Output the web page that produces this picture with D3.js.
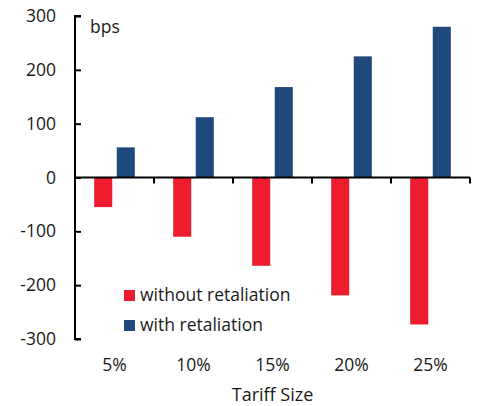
<!DOCTYPE html>
<html>
<head>
<meta charset="utf-8">
<script src="https://cdn.jsdelivr.net/npm/d3@7"></script>
<style>
  body { margin: 0; background: #fff; }
  text { font-family: "Open Sans", "Noto Sans", sans-serif; fill: #1a1a1a; }
</style>
</head>
<body>
<svg id="chart"></svg>
<script>
// Data
const categories = ["5%", "10%", "15%", "20%", "25%"];
const seriesNames = ["without retaliation", "with retaliation"];
const withoutRetaliation = [-55, -110, -164, -219, -273];
const withRetaliation = [56, 112, 168, 225, 280];
const yTicks = [300, 200, 100, 0, -100, -200, -300];

const colors = {"without retaliation": "#ed1c2e", "with retaliation": "#1f497d"};

// Dimensions
const width = 479;
const height = 406;
const margin = {top: 16, right: 9, bottom: 67, left: 75};
const fontSize = "17.5px";

const svg = d3.select("#chart")
  .attr("width", width)
  .attr("height", height);

// Scales
const y = d3.scaleLinear()
  .domain([-300, 300])
  .range([height - margin.bottom, margin.top]);

const x0 = d3.scaleBand()
  .domain(categories)
  .range([margin.left, width - margin.right])
  .padding(0);

const x1 = d3.scaleBand()
  .domain(seriesNames)
  .range([0, x0.bandwidth()])
  .paddingInner(0.2)
  .paddingOuter(0.85);

// Build the rows for the bars
const rows = categories.map((c, i) => ({
  category: c,
  values: [
    {series: seriesNames[0], value: withoutRetaliation[i]},
    {series: seriesNames[1], value: withRetaliation[i]}
  ]
}));

// Bars
const groups = svg.selectAll("g.group")
  .data(rows)
  .enter()
  .append("g")
  .attr("class", "group")
  .attr("transform", d => `translate(${x0(d.category)},0)`);

groups.selectAll("rect")
  .data(d => d.values)
  .enter()
  .append("rect")
  .attr("x", d => x1(d.series))
  .attr("y", d => y(Math.max(0, d.value)))
  .attr("width", x1.bandwidth())
  .attr("height", d => Math.abs(y(d.value) - y(0)))
  .attr("fill", d => colors[d.series]);

// Y axis (ticks pointing inward)
const yAxis = svg.append("g")
  .attr("transform", `translate(${margin.left},0)`)
  .call(d3.axisRight(y).tickValues(yTicks).tickSize(6).tickFormat(""));
yAxis.select(".domain").attr("stroke", "#000").attr("stroke-width", 2)
  .attr("d", `M6,${y(300)}H0V${y(-300)}H6`);
yAxis.selectAll(".tick line").attr("stroke", "#000").attr("stroke-width", 2);

// Y tick labels
svg.selectAll("text.ylabel")
  .data(yTicks)
  .enter()
  .append("text")
  .attr("class", "ylabel")
  .attr("x", 56)
  .attr("y", d => y(d) + 6)
  .attr("text-anchor", "end")
  .attr("font-size", fontSize)
  .text(d => d);

// Zero line with ticks between categories
const boundaries = categories.map(c => x0(c) + x0.step());
svg.append("line")
  .attr("x1", margin.left)
  .attr("x2", width - margin.right)
  .attr("y1", y(0))
  .attr("y2", y(0))
  .attr("stroke", "#000")
  .attr("stroke-width", 2);
svg.selectAll("line.xtick")
  .data(boundaries)
  .enter()
  .append("line")
  .attr("class", "xtick")
  .attr("x1", d => d)
  .attr("x2", d => d)
  .attr("y1", y(0))
  .attr("y2", y(0) + 6)
  .attr("stroke", "#000")
  .attr("stroke-width", 2);

// Category labels
svg.selectAll("text.xlabel")
  .data(categories)
  .enter()
  .append("text")
  .attr("class", "xlabel")
  .attr("x", d => x0(d) + x0.bandwidth() / 2)
  .attr("y", 371)
  .attr("text-anchor", "middle")
  .attr("font-size", fontSize)
  .text(d => d);

// Axis title
svg.append("text")
  .attr("x", (margin.left + width - margin.right) / 2)
  .attr("y", 401)
  .attr("text-anchor", "middle")
  .attr("font-size", "18px")
  .text("Tariff Size");

// Unit label
svg.append("text")
  .attr("x", 90)
  .attr("y", 33)
  .attr("font-size", fontSize)
  .text("bps");

// Legend
const legend = svg.selectAll("g.legend")
  .data(seriesNames)
  .enter()
  .append("g")
  .attr("class", "legend")
  .attr("transform", (d, i) => `translate(124,${290 + i * 30})`);

legend.append("rect")
  .attr("width", 11)
  .attr("height", 11)
  .attr("fill", d => colors[d]);

legend.append("text")
  .attr("x", 16)
  .attr("y", 11)
  .attr("font-size", fontSize)
  .text(d => d);
</script>
</body>
</html>
